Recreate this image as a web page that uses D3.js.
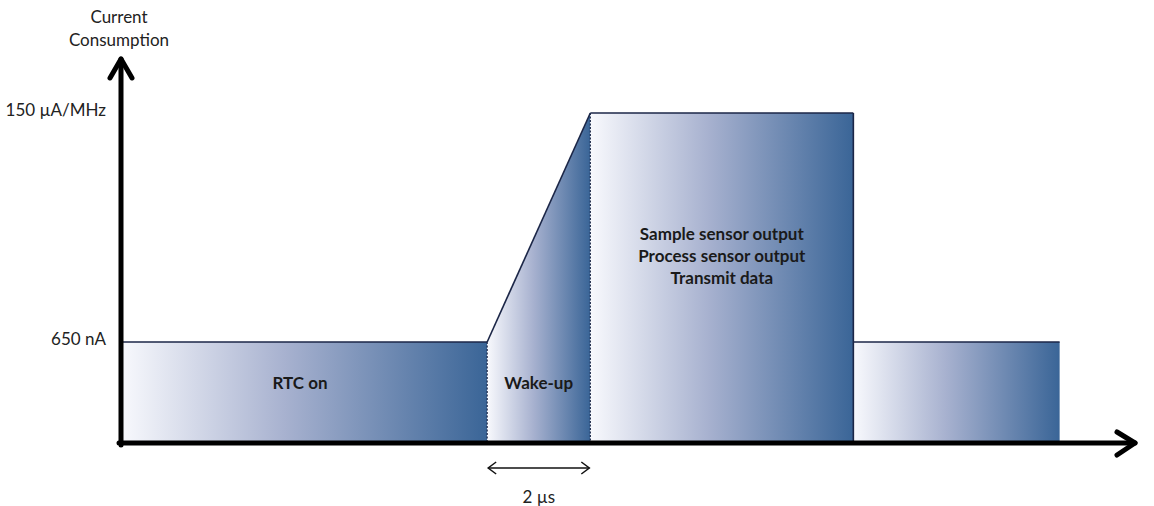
<!DOCTYPE html>
<html>
<head>
<meta charset="utf-8">
<script src="https://cdn.jsdelivr.net/npm/d3@7"></script>
<style>
  body { margin: 0; background: #fff; }
  svg { display: block; font-family: Lato, 'Open Sans', sans-serif; }
</style>
</head>
<body>
<svg id="chart" width="1154" height="506"></svg>
<script>
// phases of the duty cycle, time in arbitrary units (wake-up = 2 us)
const phaseNames = ['RTC on', 'Wake-up', 'Active', 'Idle']
const phaseStart = [0, 7.1, 9.1, 14.2]
const phaseEnd = [7.1, 9.1, 14.2, 18.2]
// level index at phase start / end (0 = none, 1 = 650 nA, 2 = 150 uA/MHz)
const levelStart = [1, 1, 2, 1]
const levelEnd = [1, 2, 2, 1]
const phaseLabels = [['RTC on'], ['Wake-up'], ['Sample sensor output', 'Process sensor output', 'Transmit data'], []]
const levelTicks = ['', '650 nA', '150 µA/MHz']
const spanLabel = '2 µs'

const svg = d3.select('#chart')

const x = d3.scaleLinear().domain([0, 19.7]).range([121, 1137])
const y = d3.scaleLinear().domain([0, 1, 2]).range([443, 342, 113])

const defs = svg.append('defs')
const grad = defs.append('linearGradient').attr('id', 'fade')
grad.append('stop').attr('offset', '0%').attr('stop-color', '#f8f9fd')
grad.append('stop').attr('offset', '45%').attr('stop-color', '#a7b1cf')
grad.append('stop').attr('offset', '100%').attr('stop-color', '#3a6597')

const phases = phaseNames.map((name, i) => ({
  name, i,
  x0: phaseStart[i], x1: phaseEnd[i],
  l0: levelStart[i], l1: levelEnd[i],
  labels: phaseLabels[i]
}))

// filled shapes
svg.append('g')
  .selectAll('path')
  .data(phases)
  .join('path')
    .attr('d', d => `M${x(d.x0)},${y(0)}L${x(d.x0)},${y(d.l0)}L${x(d.x1)},${y(d.l1)}L${x(d.x1)},${y(0)}Z`)
    .attr('fill', 'url(#fade)')

// top outlines
svg.append('g')
    .attr('stroke', '#1b2647')
    .attr('stroke-width', 1.6)
    .attr('fill', 'none')
  .selectAll('path')
  .data(phases)
  .join('path')
    .attr('d', d => `M${x(d.x0)},${y(d.l0)}L${x(d.x1)},${y(d.l1)}`)

// phase boundaries
svg.append('g')
    .attr('stroke', '#1b2647')
    .attr('stroke-width', 1.2)
    .attr('stroke-dasharray', '2,1.5')
  .selectAll('line')
  .data(phases.slice(0, 2))
  .join('line')
    .attr('x1', d => x(d.x1)).attr('x2', d => x(d.x1))
    .attr('y1', d => y(d.l1)).attr('y2', y(0))

const active = phases[2]
svg.append('line')
    .attr('x1', x(active.x1)).attr('x2', x(active.x1))
    .attr('y1', y(active.l1)).attr('y2', y(0))
    .attr('stroke', '#1b2647').attr('stroke-width', 1.6)

// phase labels
const labelX = d => d.i === 0 ? 300 : (x(d.x0) + x(d.x1)) / 2
svg.append('g')
    .attr('font-weight', 'bold')
    .attr('font-size', 17)
    .attr('fill', '#1a1a1a')
    .attr('text-anchor', 'middle')
  .selectAll('text')
  .data(phases.filter(d => d.labels.length))
  .join('text')
    .attr('x', labelX)
    .attr('y', d => d.labels.length > 1 ? 240 : 389)
    .selectAll('tspan')
    .data(d => d.labels.map(t => ({ t, px: labelX(d) })))
    .join('tspan')
      .attr('x', d => d.px)
      .attr('dy', (d, j) => j === 0 ? 0 : 22)
      .text(d => d.t)

// axes
const axis = svg.append('g')
    .attr('stroke', '#000')
    .attr('stroke-width', 5)
    .attr('fill', 'none')
    .attr('stroke-linecap', 'round')
    .attr('stroke-linejoin', 'round')
axis.append('path').attr('d', `M${x(0)},${y(0) + 2}V59`)
axis.append('path').attr('d', `M110,78L${x(0)},59L132,78`)
axis.append('path').attr('d', `M${x(0) - 2},${y(0)}H1135`)
axis.append('path').attr('d', `M1117,432L1135,${y(0)}L1117,455`)

// level ticks
svg.append('g')
    .attr('font-size', 17)
    .attr('fill', '#222')
    .attr('text-anchor', 'end')
  .selectAll('text')
  .data(levelTicks.map((t, i) => ({ t, i })).filter(d => d.t))
  .join('text')
    .attr('x', 106)
    .attr('y', d => y(d.i) + 3)
    .text(d => d.t)

// axis title
svg.append('text')
    .attr('font-size', 17)
    .attr('fill', '#222')
    .attr('text-anchor', 'middle')
    .selectAll('tspan')
    .data(['Current', 'Consumption'])
    .join('tspan')
      .attr('x', 119)
      .attr('y', (d, i) => 23 + i * 23)
      .text(d => d)

// wake-up duration marker
const wake = phases[1]
const span = svg.append('g')
    .attr('stroke', '#111')
    .attr('stroke-width', 1.5)
    .attr('fill', 'none')
span.append('path').attr('d', `M${x(wake.x0) + 1},468H${x(wake.x1) - 1}`)
span.append('path').attr('d', `M${x(wake.x0) + 9},462L${x(wake.x0) + 1},468L${x(wake.x0) + 9},474`)
span.append('path').attr('d', `M${x(wake.x1) - 9},462L${x(wake.x1) - 1},468L${x(wake.x1) - 9},474`)
svg.append('text')
    .attr('x', (x(wake.x0) + x(wake.x1)) / 2)
    .attr('y', 503)
    .attr('font-size', 17)
    .attr('fill', '#222')
    .attr('text-anchor', 'middle')
    .text(spanLabel)
</script>
</body>
</html>
